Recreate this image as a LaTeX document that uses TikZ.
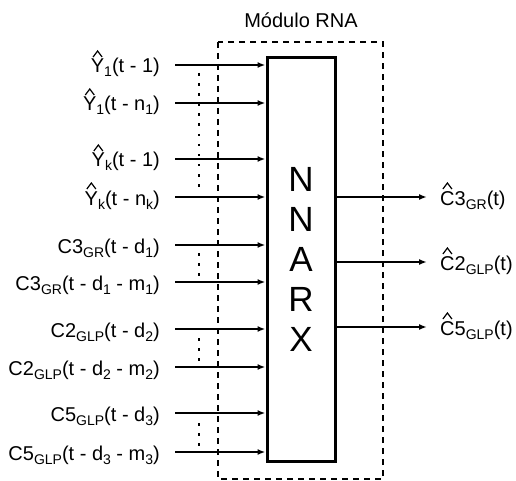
\documentclass[tikz,border=0pt]{standalone}
\usepackage{fontspec}
\setmainfont{Liberation Sans}
\usepackage{tikz}
\usetikzlibrary{positioning,arrows.meta,calc}
\newcommand{\lowsub}[1]{\raisebox{-4pt}{\fontsize{14}{14}\selectfont #1}}
\newcommand{\chapeu}[1]{\ooalign{#1\cr\hidewidth
  \tikz[baseline=0pt,x=1pt,y=1pt]\draw[line width=1.2pt,line join=miter] (0,16)--(4.5,22)--(9,16);%
  \hidewidth\cr}}

\begin{document}
\begin{tikzpicture}[
  x=1pt, y=-1pt,
  font=\fontsize{20}{22}\selectfont,
  lab/.style={inner sep=0pt, text height=16pt, text depth=0pt},
  inlab/.style={lab, anchor=east},
  outlab/.style={lab, anchor=west},
  arr/.style={-{Latex[length=8pt,width=6pt]}, line width=1.9pt},
  dotline/.style={line width=2.6pt, dash pattern=on 2.6pt off 7.5pt},
  modbox/.style={draw, line width=1.9pt, dash pattern=on 6pt off 5pt},
]
\useasboundingbox (0,0) rectangle (516,481);
% modulo RNA
\draw[modbox] (218,42) rectangle (383,479);
\node (titulo) at (301,20) {Módulo RNA};
\node[draw, line width=3pt, minimum width=68pt, minimum height=404pt, inner sep=0pt,
  align=center, font=\fontsize{35}{40}\selectfont] (nnarx) at (301,259.5) {N\\N\\A\\R\\X};
% entradas
\node[inlab] (in1) at (160,65) {\chapeu{Y}\lowsub{1}(t - 1)};
\node[inlab] (in2) at (160,103) {\chapeu{Y}\lowsub{1}(t - n\lowsub{1})};
\node[inlab] (in3) at (160,159) {\chapeu{Y}\lowsub{k}(t - 1)};
\node[inlab] (in4) at (160,197) {\chapeu{Y}\lowsub{k}(t - n\lowsub{k})};
\node[inlab] (in5) at (160,245) {C3\lowsub{GR}(t - d\lowsub{1})};
\node[inlab] (in6) at (160,282) {C3\lowsub{GR}(t - d\lowsub{1} - m\lowsub{1})};
\node[inlab] (in7) at (160,329) {C2\lowsub{GLP}(t - d\lowsub{2})};
\node[inlab] (in8) at (160,367) {C2\lowsub{GLP}(t - d\lowsub{2} - m\lowsub{2})};
\node[inlab] (in9) at (160,413) {C5\lowsub{GLP}(t - d\lowsub{3})};
\node[inlab] (in10) at (160,452) {C5\lowsub{GLP}(t - d\lowsub{3} - m\lowsub{3})};
\foreach \i in {1,...,10}
  \draw[arr] ([xshift=15pt]in\i.east) -- (in\i -| nnarx.west);
% pontos
\draw[dotline] (199,73) -- (199,190);
\draw[dotline] (199,253) -- (199,276);
\draw[dotline] (199,338) -- (199,361);
\draw[dotline] (199,423) -- (199,446);
% saidas
\node[outlab] (out1) at (440,197) {\chapeu{C}3\lowsub{GR}(t)};
\node[outlab] (out2) at (440,262) {\chapeu{C}2\lowsub{GLP}(t)};
\node[outlab] (out3) at (440,327) {\chapeu{C}5\lowsub{GLP}(t)};
\foreach \i in {1,2,3}
  \draw[arr] (out\i -| nnarx.east) -- ([xshift=-13pt]out\i.west);
\end{tikzpicture}
\end{document}
